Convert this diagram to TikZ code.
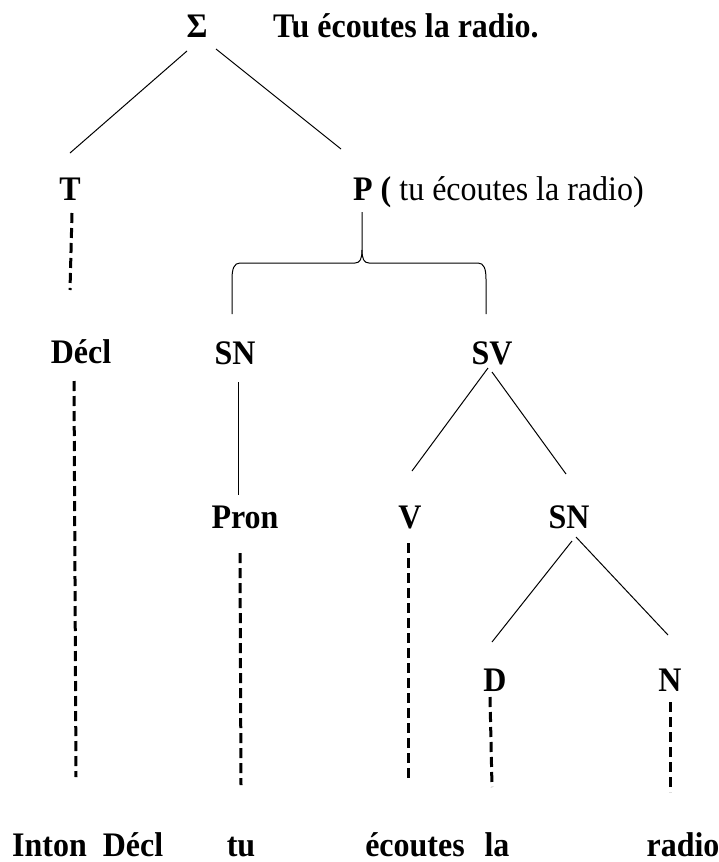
\documentclass[tikz,border=0pt]{standalone}
\usepackage{fontspec}
\setmainfont{Liberation Serif}[FakeStretch=0.93]
\usepackage{tikz}
\tikzset{
	lab/.style={font=\fontsize{34.4}{40}\selectfont\bfseries,anchor=base,inner sep=0pt},
	tige/.style={line width=1pt},
	pointille/.style={line width=3pt,dash pattern=on 10pt off 5pt}
}
\begin{document}
\begin{tikzpicture}[x=1pt,y=-1pt]
	\useasboundingbox (0,0) rectangle (719,862);
	\node[lab] (S) at (197,37) {Σ};
	\node[lab,anchor=base west] (phrase) at (273,37) {Tu écoutes la radio.};
	\node[lab] (T) at (70,200) {T};
	\node[lab,anchor=base west] (P) at (353,200) {P (\mdseries\ tu écoutes la radio)};
	\node[lab] (Decl) at (81,363) {Décl};
	\node[lab] (SNa) at (235,364) {SN};
	\node[lab] (SV) at (492,364) {SV};
	\node[lab] (Pron) at (245,528) {Pron};
	\node[lab] (V) at (410,528) {V};
	\node[lab] (SNb) at (569,528) {SN};
	\node[lab] (D) at (495,691) {D};
	\node[lab] (N) at (670,691) {N};
	\node[lab,anchor=base west] (Inton) at (12,856) {Inton\ \ Décl};
	\node[lab] (tu) at (241,856) {tu};
	\node[lab] (ecoutes) at (415,856) {écoutes};
	\node[lab] (la) at (497,856) {la};
	\node[lab] (radio) at (683,856) {radio};
	\draw[tige] ([shift={(-10,14)}]S.base) -- ([shift={(0,-47)}]T.base);
	\draw[tige] ([shift={(19,12)}]S.base) -- ([shift={(-12,-51)}]P.base west);
	\draw[pointille] ([shift={(2,13)}]T.base) -- ([shift={(-11,-73)}]Decl.base);
	\draw[tige] ([shift={(9,12)}]P.base west) -- (362,250) .. controls (362,259) and (364,263) .. (369,263) -- (478,263) .. controls (484,263) and (486,269) .. (486,279) -- ([shift={(-6,-50)}]SV.base);
	\draw[tige] (362,250) .. controls (362,259) and (360,263) .. (355,263) -- (240,263) .. controls (234,263) and (232,269) .. (232,279) -- ([shift={(-3,-50)}]SNa.base);
	\draw[pointille] ([shift={(-7,18)}]Decl.base) -- ([shift={(64,-79)}]Inton.base west);
	\draw[tige] ([shift={(3,18)}]SNa.base) -- ([shift={(-7,-33)}]Pron.base);
	\draw[tige] ([shift={(-4,4)}]SV.base) -- ([shift={(2,-57)}]V.base);
	\draw[tige] ([shift={(0,8)}]SV.base) -- ([shift={(-3,-54)}]SNb.base);
	\draw[pointille] ([shift={(-5,25)}]Pron.base) -- ([shift={(0,-71)}]tu.base);
	\draw[pointille] ([shift={(-2,15)}]V.base) -- ([shift={(-7,-78)}]ecoutes.base);
	\draw[tige] ([shift={(3,13)}]SNb.base) -- ([shift={(-3,-49)}]D.base);
	\draw[tige] ([shift={(7,9)}]SNb.base) -- ([shift={(-2,-56)}]N.base);
	\draw[pointille] ([shift={(-5,6)}]D.base) -- ([shift={(-5,-69)}]la.base);
	\draw[pointille] ([shift={(0,11)}]N.base) -- ([shift={(-13,-64)}]radio.base);
\end{tikzpicture}
\end{document}
